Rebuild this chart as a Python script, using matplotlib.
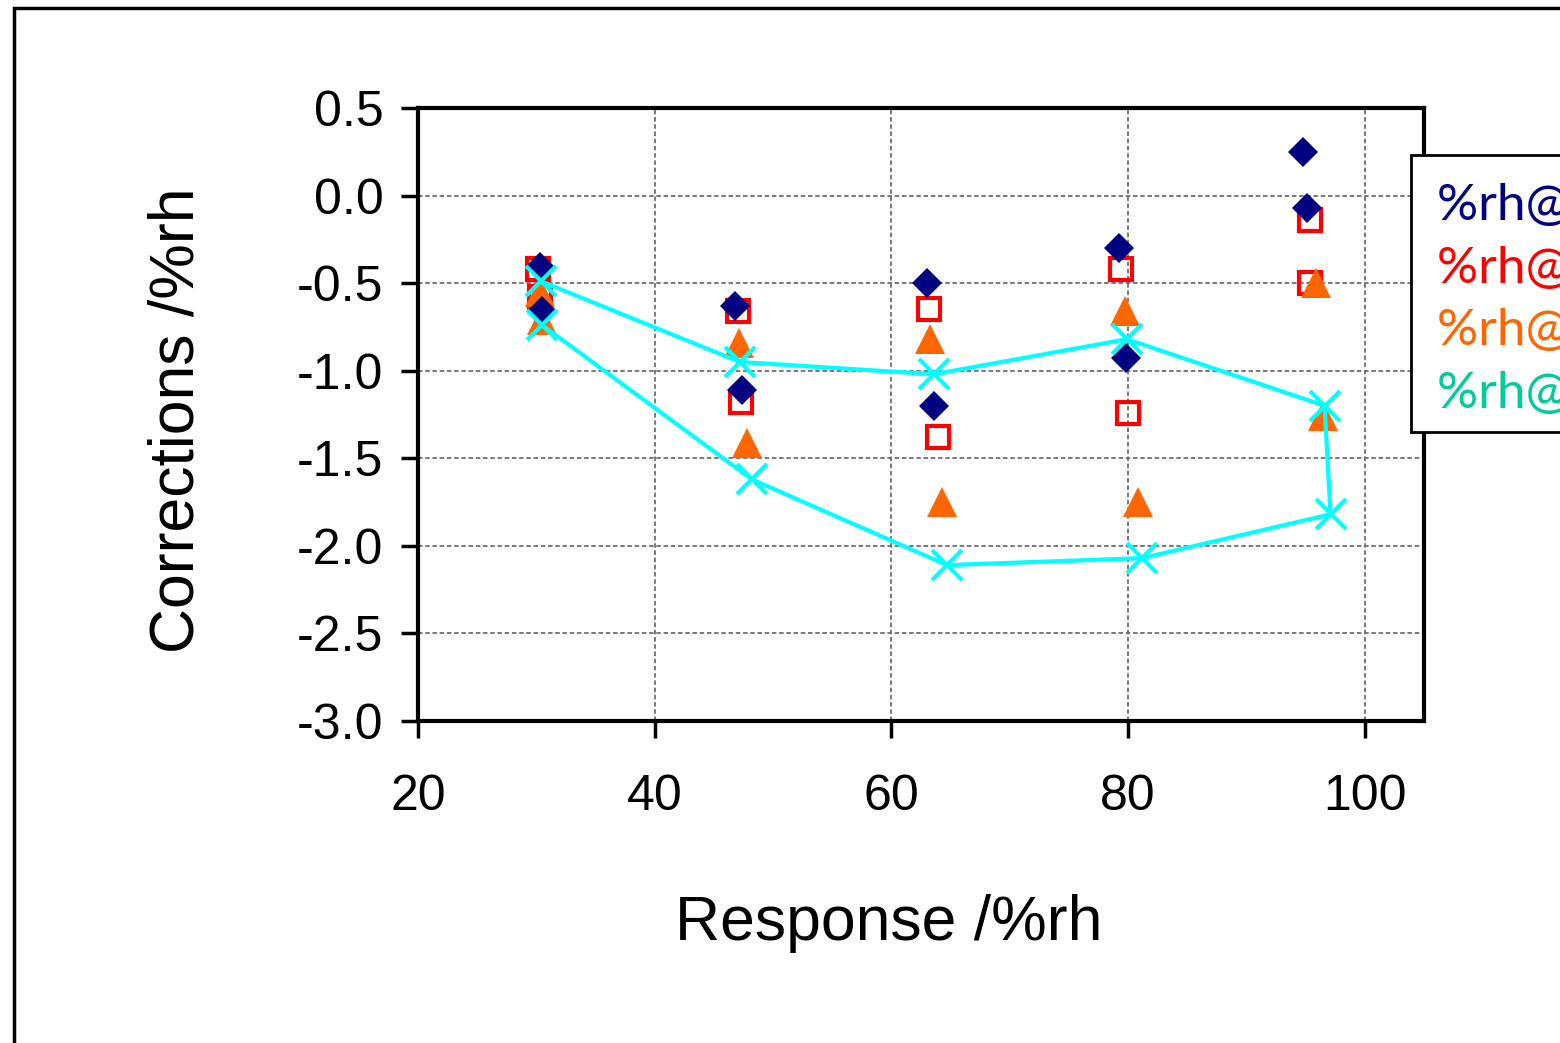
import matplotlib
matplotlib.use("Agg")
import matplotlib.pyplot as plt
import matplotlib.patches as patches
from matplotlib.ticker import FormatStrFormatter

plt.rcParams['font.family'] = ['Liberation Sans', 'DejaVu Sans']
plt.rcParams['axes.unicode_minus'] = False

# values
navy_x = [30.3, 30.5, 46.8, 47.4, 63.0, 63.6, 79.2, 79.8, 94.8, 95.1]
navy_y = [-0.41, -0.66, -0.63, -1.11, -0.50, -1.20, -0.30, -0.93, 0.25, -0.07]

red_x = [30.1, 30.3, 47.0, 47.3, 63.2, 63.9, 79.4, 80.0, 95.4, 95.4]
red_y = [-0.42, -0.58, -0.66, -1.18, -0.65, -1.38, -0.42, -1.24, -0.14, -0.50]

orange_x = [30.3, 30.5, 47.1, 47.8, 63.3, 64.3, 79.7, 80.8, 95.9, 96.5]
orange_y = [-0.55, -0.71, -0.84, -1.41, -0.82, -1.75, -0.66, -1.75, -0.50, -1.26]

cyan_x = [30.4, 47.2, 63.6, 79.9, 96.6, 97.1, 81.2, 64.7, 48.2, 30.5]
cyan_y = [-0.49, -0.95, -1.02, -0.82, -1.20, -1.82, -2.07, -2.11, -1.62, -0.74]

legend_labels = ['%rh@ 10 °C', '%rh@ 20 °C', '%rh@ 30 °C', '%rh@ 40 °C']
legend_colors = ['#000080', '#FF0000', '#FF6600', '#00CC99']

W, H = 1560, 1043
fig = plt.figure(figsize=(W / 100, H / 100), dpi=100)

# outer chart-area border (runs off right and bottom)
fig.patches.append(patches.Rectangle((14 / W, -0.2), 2.0, 1.2 - 8 / H, transform=fig.transFigure,
                                     fill=False, edgecolor='black', linewidth=2.5, zorder=0))

ax = fig.add_axes([418 / W, 1 - 721 / H, (1424 - 418) / W, (721 - 108) / H])

ax.plot(red_x, red_y, linestyle='none', marker='s', markersize=16, markerfacecolor='none',
        markeredgecolor='#FF0000', markeredgewidth=3, zorder=3)
ax.plot(orange_x, orange_y, linestyle='none', marker='^', markersize=21, color='#FF6600',
        markeredgewidth=0, zorder=4)
ax.plot(navy_x, navy_y, linestyle='none', marker='D', markersize=15.5, color='#000080',
        markeredgewidth=0, zorder=5)
ax.plot(cyan_x, cyan_y, color='#00FFFF', linewidth=3, marker='x', markersize=21,
        markeredgewidth=3, zorder=6)

ax.set_xlim(20, 105)
ax.set_ylim(-3.0, 0.5)
ax.set_xticks([20, 40, 60, 80, 100])
ax.set_yticks([-3.0, -2.5, -2.0, -1.5, -1.0, -0.5, 0.0, 0.5])
ax.yaxis.set_major_formatter(FormatStrFormatter('%.1f'))

ax.grid(True, color='#707070', linestyle=(0, (2.5, 1.5)), linewidth=1.3)
ax.set_axisbelow(True)
for s in ax.spines.values():
    s.set_linewidth(3)
ax.tick_params(axis='both', direction='out', length=12, width=2.5, labelsize=36)
ax.tick_params(axis='x', pad=26)
ax.tick_params(axis='y', pad=13)

fig.text(177 / W, 1 - 420 / H, 'Corrections /%rh', rotation=90, ha='center', va='center', fontsize=45)
fig.text(889 / W, 1 - 940 / H, 'Response /%rh', ha='center', va='baseline', fontsize=45)

# legend box, cut off at the right edge like the original
fig.patches.append(patches.Rectangle((1411 / W, 1 - 432 / H), 0.5, (432 - 155) / H,
                                     transform=fig.transFigure, fill=True, facecolor='white',
                                     edgecolor='black', linewidth=2.0, zorder=10))
baselines = [220, 283, 345, 408]
for lab, col, b in zip(legend_labels, legend_colors, baselines):
    fig.text(1437 / W, 1 - b / H, lab, color=col, fontsize=37, family=['Lato', 'DejaVu Sans'],
             ha='left', va='baseline', zorder=11)

fig.savefig('out.png', dpi=100)
